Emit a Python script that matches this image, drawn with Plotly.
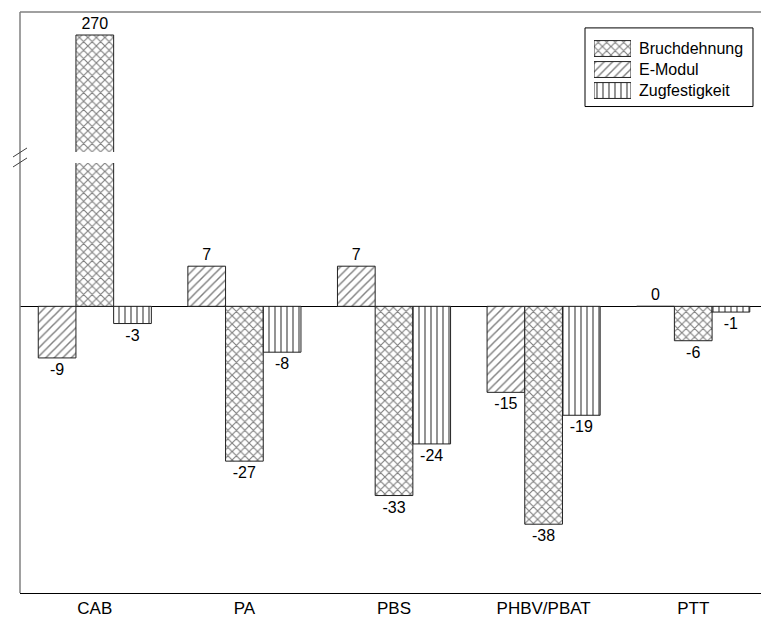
import plotly.graph_objects as go

# Relative change (%) of mechanical properties per polymer blend
categories = ["CAB", "PA", "PBS", "PHBV/PBAT", "PTT"]
e_modul = [-9, 7, 7, -15, 0]
bruchdehnung = [270, -27, -33, -38, -6]
zugfestigkeit = [-3, -8, -24, -19, -1]

# broken value axis: lower panel and upper panel ranges
lower_range = [-50, 25]
upper_range = [249.65, 274.0]

# name, values, hatch, hatch size, hatch solidity (group order left to right)
series = [
    ("E-Modul", e_modul, "/", 6, 0.24),
    ("Bruchdehnung", bruchdehnung, "x", 6, 0.34),
    ("Zugfestigkeit", zugfestigkeit, "|", 6, 0.28),
]
legend_order = ["Bruchdehnung", "E-Modul", "Zugfestigkeit"]

FONT = "Liberation Sans, Arial, sans-serif"

fig = go.Figure()

for name, vals, shape, size, sol in series:
    common = dict(
        x=categories,
        y=vals,
        name=name,
        offsetgroup=name,
        showlegend=False,
        marker=dict(
            color="white",
            line=dict(color="#222222", width=1),
            pattern=dict(shape=shape, fgcolor="black", bgcolor="white",
                         size=size, solidity=sol),
        ),
        textposition="outside",
        textfont=dict(size=16, color="black", family=FONT),
        cliponaxis=False,
    )
    # lower panel
    fig.add_trace(go.Bar(
        **common,
        text=[str(v) if v <= lower_range[1] else "" for v in vals],
        xaxis="x", yaxis="y",
    ))
    # upper panel (only values above the break are visible here)
    fig.add_trace(go.Bar(
        **common,
        text=[str(v) if v > lower_range[1] else "" for v in vals],
        xaxis="x2", yaxis="y2",
    ))

# legend swatches: one full-length pattern bar per series
style_of = {n: (s, sz, so) for n, _, s, sz, so in series}
fig.add_trace(go.Bar(
    y=legend_order,
    x=[1] * len(legend_order),
    orientation="h",
    xaxis="x3", yaxis="y3",
    showlegend=False, hoverinfo="skip",
    marker=dict(
        color="white",
        line=dict(color="#222222", width=1),
        pattern=dict(shape=[style_of[n][0] for n in legend_order],
                     fgcolor="black", bgcolor="white",
                     size=[style_of[n][1] for n in legend_order],
                     solidity=[style_of[n][2] for n in legend_order]),
    ),
))

# panel geometry in paper units
lower_top = 0.7401
upper_bottom = 0.759

ncat = len(categories)
fig.update_layout(
    width=761, height=621,
    margin=dict(l=20, r=0, t=12, b=28),
    paper_bgcolor="white", plot_bgcolor="white",
    barmode="group", bargap=0.244, bargroupgap=0,
    font=dict(family=FONT, color="black"),
    showlegend=False,
    xaxis=dict(
        domain=[0, 1], anchor="y", type="category",
        range=[-0.5, ncat - 0.547],
        showline=True, linecolor="black", linewidth=1,
        ticks="", showgrid=False, zeroline=False,
        tickfont=dict(size=17, family=FONT, color="black"),
    ),
    yaxis=dict(
        domain=[0, lower_top], anchor="x", range=lower_range,
        showticklabels=False, ticks="", showgrid=False, showline=False,
        zeroline=True, zerolinecolor="black", zerolinewidth=1,
    ),
    xaxis2=dict(
        domain=[0, 1], anchor="y2", type="category", matches="x",
        showticklabels=False, ticks="", showgrid=False, showline=False,
        zeroline=False,
    ),
    yaxis2=dict(
        domain=[upper_bottom, 1], anchor="x2", range=upper_range,
        showticklabels=False, ticks="", showgrid=False, showline=False,
        zeroline=False,
    ),
    # legend swatch area
    xaxis3=dict(
        domain=[0.7746, 0.8246], anchor="y3", range=[0, 1],
        visible=False, fixedrange=True,
    ),
    yaxis3=dict(
        domain=[0.8468, 0.9552], anchor="x3", type="category",
        autorange="reversed", visible=False, fixedrange=True,
    ),
)

# legend box and labels
fig.add_shape(type="rect", xref="paper", yref="paper",
              x0=0.7625, x1=0.9892, y0=0.8468 - 0.0095, y1=0.9552 + 0.0174,
              line=dict(color="black", width=1), fillcolor="rgba(0,0,0,0)",
              layer="below")
row_h = (0.9552 - 0.8468) / len(legend_order)
for i, n in enumerate(legend_order):
    fig.add_annotation(
        xref="paper", yref="paper", x=0.8327,
        y=0.9552 - row_h * (i + 0.5),
        text=n, showarrow=False, xanchor="left", yanchor="middle",
        font=dict(size=16, family=FONT, color="black"),
    )

# frame: left and top lines
fig.add_shape(type="line", xref="paper", yref="paper", x0=0, x1=0, y0=0, y1=1,
              line=dict(color="#808080", width=1.5))
fig.add_shape(type="line", xref="paper", yref="paper", x0=0, x1=1.02, y0=1, y1=1,
              line=dict(color="#808080", width=1.5))

# axis-break marks on both sides
for xa in (0, 1.0101):
    for ya in (0.7582, 0.7410):
        fig.add_shape(
            type="line", xref="paper", yref="paper",
            xsizemode="pixel", xanchor=xa, x0=-7, x1=7,
            ysizemode="pixel", yanchor=ya, y0=-4.5, y1=4.5,
            line=dict(color="#404040", width=1),
        )

fig.write_html("out.html")
